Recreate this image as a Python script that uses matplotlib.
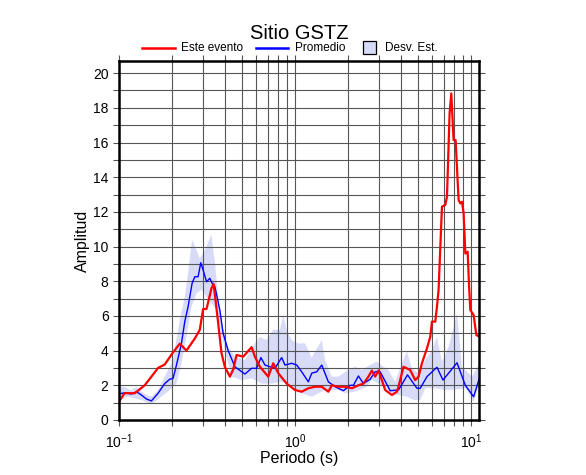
import numpy as np
import matplotlib
matplotlib.use("Agg")
import matplotlib.pyplot as plt
from matplotlib.lines import Line2D
from matplotlib.patches import Rectangle
from matplotlib.ticker import MultipleLocator, LogLocator

plt.rcParams["font.family"] = ["Liberation Sans", "DejaVu Sans"]
plt.rcParams["mathtext.fontset"] = "custom"
plt.rcParams["mathtext.rm"] = "Liberation Sans"
plt.rcParams["mathtext.it"] = "Liberation Sans:italic"

# ── data ──
red_per = [0.1, 0.1077, 0.1229, 0.140, 0.1529, 0.1667, 0.182, 0.2029, 0.2216, 0.2418,
           0.2697, 0.2879, 0.3006, 0.3144, 0.3356, 0.345, 0.366, 0.3825, 0.3994, 0.4266,
           0.4454, 0.4658, 0.5079, 0.5669, 0.592, 0.6321, 0.7047, 0.7525, 0.8035, 0.8969,
           1.0, 1.0917, 1.1905, 1.2997, 1.4191, 1.5471, 1.6177, 1.764, 1.9256, 2.1023,
           2.2925, 2.4474, 2.6133, 2.7326, 2.853, 2.9791, 3.1153, 3.2523, 3.5514, 3.7914,
           3.8717, 4.0484, 4.1341, 4.322, 4.5131, 4.8195, 5.0326, 5.2612, 5.6191, 5.868,
           5.998, 6.2634, 6.405, 6.5403, 6.8375, 7.14, 7.3014, 7.5544, 7.7251, 7.8581,
           7.9621, 8.1736, 8.5003, 8.6924, 8.8887, 9.077, 9.282, 9.5663, 9.75, 9.9083,
           10.347, 10.72, 11.15]
red_amp = [1.05, 1.55, 1.54, 2.0, 2.5, 3.0, 3.2, 3.9, 4.4, 4.0,
           4.7, 5.2, 6.4, 6.4, 7.6, 7.85, 5.6, 3.85, 3.07, 2.5,
           2.9, 3.75, 3.65, 4.2, 3.65, 3.07, 2.5, 3.27, 2.7, 2.1,
           1.73, 1.63, 1.83, 1.92, 1.92, 1.63, 2.0, 1.92, 1.92, 1.83,
           2.0, 2.1, 2.5, 2.85, 2.5, 2.85, 2.3, 1.73, 1.44, 1.63,
           1.92, 2.7, 3.07, 2.98, 2.88, 2.3, 2.5, 3.27, 4.13, 4.8,
           5.67, 5.67, 6.53, 7.49, 12.3, 12.4, 12.87, 17.68, 18.83, 17.29,
           16.14, 16.14, 12.68, 12.49, 12.58, 11.91, 9.6, 9.7, 7.7, 6.34,
           6.05, 4.9, 4.8]

blue_per = [0.1, 0.1077, 0.1176, 0.1256, 0.1341, 0.1432, 0.1529, 0.1667, 0.182, 0.1943,
            0.2029, 0.2122, 0.2265, 0.2365, 0.247, 0.2603, 0.2697, 0.2815, 0.2917, 0.3006,
            0.3144, 0.3282, 0.3383, 0.3505, 0.3741, 0.3906, 0.4173, 0.4555, 0.5193, 0.5669,
            0.6053, 0.6405, 0.6748, 0.7206, 0.7695, 0.8399, 0.8771, 0.9577, 1.0226, 1.0917,
            1.1905, 1.2447, 1.329, 1.4191, 1.5471, 1.6892, 1.8831, 2.0559, 2.1468, 2.2925,
            2.4474, 2.6723, 2.853, 3.0464, 3.473, 3.8717, 4.3569, 4.9283, 5.145, 5.6191,
            6.405, 6.9278, 8.3243, 9.282, 10.347, 11.15]
blue_amp = [1.5, 1.57, 1.5, 1.63, 1.44, 1.21, 1.1, 1.54, 2.1, 2.35,
            2.4, 3.17, 4.42, 5.67, 6.53, 7.88, 8.26, 8.26, 9.07, 8.65,
            7.97, 8.17, 7.88, 7.7, 6.34, 5.0, 4.0, 3.07, 2.65, 2.98,
            2.98, 3.6, 3.17, 3.07, 2.98, 3.6, 3.17, 3.27, 3.17, 2.78,
            2.2, 2.7, 2.78, 3.17, 2.2, 1.92, 1.69, 2.0, 2.0, 2.54,
            2.1, 2.35, 2.78, 2.78, 1.69, 1.73, 2.6, 1.83, 1.83, 2.5,
            3.04, 2.3, 3.3, 2.0, 1.34, 2.4]

up_per = [0.1, 0.1077, 0.1176, 0.1256, 0.140, 0.1529, 0.1667, 0.182, 0.2029, 0.2216,
          0.2365, 0.247, 0.2603, 0.2757, 0.2879, 0.3075, 0.3356, 0.3459, 0.3505, 0.366,
          0.3825, 0.4173, 0.4555, 0.5193, 0.592, 0.6321, 0.6899, 0.7525, 0.8213, 0.8578,
          0.8969, 0.9577, 1.0442, 1.14, 1.2447, 1.4191, 1.4817, 1.6177, 1.764, 2.0108,
          2.1953, 2.3966, 2.6723, 2.9174, 3.1812, 3.3963, 3.7085, 4.0484, 4.322, 4.615,
          5.0326, 5.495, 5.998, 6.405, 6.8375, 7.456, 8.3243, 8.8887, 10.132, 11.048, 11.15]
up_amp = [1.95, 1.9, 1.7, 1.9, 1.5, 1.35, 1.7, 2.5, 3.46, 5.76,
          7.1, 8.5, 10.4, 9.8, 9.3, 9.8, 10.7, 9.5, 9.2, 7.1,
          5.57, 4.2, 3.65, 3.46, 4.42, 4.8, 4.6, 5.2, 5.2, 6.05,
          5.2, 4.6, 4.42, 4.42, 3.6, 4.6, 3.46, 2.5, 2.5, 2.88,
          3.07, 2.88, 3.17, 3.36, 3.07, 2.88, 2.2, 3.27, 3.94, 2.98,
          2.7, 3.46, 4.03, 4.8, 3.36, 4.22, 6.15, 3.07, 2.5, 3.17, 3.4]

lo_per = [0.1, 0.1125, 0.1341, 0.1529, 0.1743, 0.1943, 0.2122, 0.2265, 0.2418, 0.2583,
          0.2757, 0.2944, 0.3144, 0.3356, 0.3584, 0.3825, 0.3994, 0.4362, 0.4973, 0.5669,
          0.6463, 0.7369, 0.8399, 0.9577, 1.0917, 1.2447, 1.4817, 1.764, 1.9256, 2.1953,
          2.559, 2.7326, 3.2523, 3.5514, 3.8717, 4.322, 4.7127, 5.145, 5.495, 6.2634,
          7.14, 8.3243, 9.282, 9.6907, 10.347, 11.048, 11.15]
lo_amp = [1.25, 1.34, 1.15, 0.9, 1.34, 1.73, 2.1, 3.27, 4.8, 6.53,
          7.3, 7.5, 7.1, 6.73, 6.34, 5.0, 4.03, 2.5, 2.3, 2.4,
          2.1, 2.1, 2.2, 1.92, 1.54, 1.34, 1.73, 1.73, 1.54, 1.63,
          1.92, 2.3, 1.92, 1.44, 1.44, 1.34, 1.15, 1.15, 1.83, 1.83,
          1.73, 1.77, 1.83, 1.54, 1.05, 1.92, 2.2]

legend_labels = ["Este evento", "Promedio", "Desv. Est."]

x_min, x_max = 0.1, 11.15
y_max = 20.7

red_color = "#ff0000"
blue_color = "#0000ff"
band_color = "#d8dbf8"

fig = plt.figure(figsize=(5.86, 4.75), dpi=100)
ax = fig.add_axes([0.203, 0.1158, 0.615, 0.7558])

# std band as a polygon (upper edge then lower edge reversed)
ax.fill(up_per + lo_per[::-1], up_amp + lo_amp[::-1],
        color=band_color, lw=0, zorder=1)
ax.plot(blue_per, blue_amp, color=blue_color, lw=1.0, zorder=3)
ax.plot(red_per, red_amp, color=red_color, lw=1.6, zorder=4)

ax.set_xscale("log")
ax.set_xlim(x_min, x_max)
ax.set_ylim(0, y_max)

ax.yaxis.set_major_locator(MultipleLocator(2))
ax.yaxis.set_minor_locator(MultipleLocator(1))
ax.xaxis.set_major_locator(LogLocator(base=10))
ax.xaxis.set_minor_locator(LogLocator(base=10, subs=np.arange(2, 10)))
ax.xaxis.set_minor_formatter(plt.NullFormatter())

ax.grid(True, which="both", color="#555555", lw=0.8)
for line in ax.get_xgridlines() + ax.get_ygridlines():
    line.set_zorder(2)

for side in ax.spines.values():
    side.set_linewidth(1.8)
    side.set_zorder(5)

ax.tick_params(which="both", direction="out", length=4, width=0.8,
               color="#555555", labelsize=10, top=True, right=True,
               labeltop=False, labelright=False)
ax.tick_params(axis="x", which="major", pad=5)

ax.set_xlabel("Periodo (s)", fontsize=11.5, labelpad=0)
ax.set_ylabel("Amplitud", fontsize=11.5, labelpad=2)
ax.set_title("Sitio GSTZ", fontsize=14.5, pad=16)

# legend row above the axes, drawn by hand in figure coordinates
leg_y = 0.899
fig.add_artist(Line2D([0.2423, 0.2986], [leg_y, leg_y], color=red_color, lw=1.8,
                      transform=fig.transFigure))
fig.text(0.3089, leg_y, legend_labels[0], fontsize=8.5, va="center")
fig.add_artist(Line2D([0.4369, 0.4915], [leg_y, leg_y], color=blue_color, lw=1.8,
                      transform=fig.transFigure))
fig.text(0.5034, leg_y, legend_labels[1], fontsize=8.5, va="center")
fig.add_artist(Rectangle((0.6195, 0.8853), 0.0222, 0.0274, facecolor=band_color,
                         edgecolor="black", lw=0.9, transform=fig.transFigure))
fig.text(0.657, leg_y, legend_labels[2], fontsize=8.5, va="center")

fig.savefig("out.png", dpi=100)
